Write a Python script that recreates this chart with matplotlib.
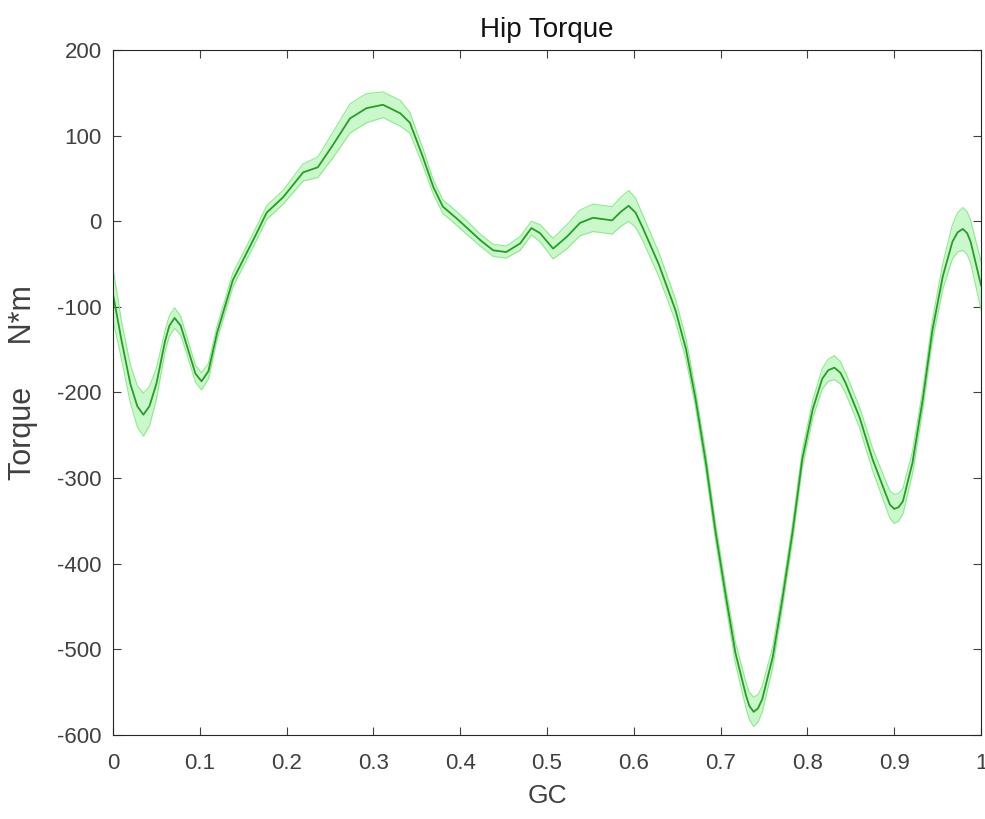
import matplotlib
matplotlib.use("Agg")
import matplotlib.pyplot as plt
import numpy as np

# gait cycle points, mean hip torque and its spread
gc = [0.000, 0.010, 0.020, 0.028, 0.035, 0.042, 0.050, 0.060, 0.065, 0.071,
      0.078, 0.085, 0.095, 0.102, 0.110, 0.120, 0.138, 0.150, 0.165, 0.177,
      0.196, 0.219, 0.236, 0.254, 0.273, 0.292, 0.311, 0.331, 0.342, 0.357,
      0.369, 0.380, 0.395, 0.407, 0.423, 0.438, 0.453, 0.469, 0.482, 0.492,
      0.507, 0.523, 0.538, 0.553, 0.575, 0.585, 0.594, 0.602, 0.610, 0.629,
      0.648, 0.660, 0.671, 0.683, 0.694, 0.706, 0.717, 0.729, 0.733, 0.738,
      0.743, 0.748, 0.760, 0.771, 0.783, 0.794, 0.806, 0.817, 0.824, 0.831,
      0.838, 0.844, 0.860, 0.875, 0.890, 0.895, 0.900, 0.905, 0.910, 0.921,
      0.933, 0.944, 0.956, 0.967, 0.973, 0.979, 0.984, 0.988, 1.000]
torque = [-85, -140, -190, -216, -226, -216, -190, -140, -122, -113,
          -122, -145, -178, -187, -175, -130, -69, -45, -15, 10,
          28, 57, 63, 90, 120, 132, 136, 126, 115, 75,
          40, 17, 4, -7, -22, -34, -36, -26, -8, -14,
          -32, -18, -2, 4, 1, 11, 18, 10, -7, -51,
          -104, -149, -207, -282, -362, -438, -504, -553, -566, -573,
          -569, -558, -509, -442, -362, -278, -220, -184, -174, -171,
          -177, -189, -229, -278, -318, -331, -336, -334, -327, -282,
          -207, -127, -64, -24, -13, -9, -14, -24, -75]
spread = [30, 22, 22, 24, 25, 23, 18, 12, 12, 12,
          11, 10, 10, 10, 9, 8, 8, 8, 8, 8,
          8, 10, 12, 15, 17, 17, 15, 15, 12, 10,
          8, 8, 8, 8, 7, 7, 7, 8, 8, 10,
          12, 14, 15, 16, 16, 17, 18, 17, 15, 14,
          13, 12, 10, 10, 10, 10, 12, 15, 16, 17,
          16, 15, 12, 10, 10, 10, 10, 12, 13, 14,
          13, 12, 12, 13, 15, 16, 17, 16, 15, 13,
          12, 12, 15, 20, 23, 25, 25, 25, 28]

plt.rcParams['font.family'] = ['Liberation Sans', 'DejaVu Sans']
plt.rcParams['axes.unicode_minus'] = False
txt = '#262626'

fig = plt.figure(figsize=(9.85, 8.19), dpi=100)
ax = fig.add_axes([0.1147, 0.1026, 0.8813, 0.8364])

lo = np.array(torque) - np.array(spread)
hi = np.array(torque) + np.array(spread)
ax.fill_between(gc, lo, hi, color=(0.6, 0.95, 0.6), alpha=0.5, lw=0)
ax.plot(gc, lo, color=(0.55, 0.92, 0.55), lw=0.8, solid_joinstyle='round')
ax.plot(gc, hi, color=(0.55, 0.92, 0.55), lw=0.8, solid_joinstyle='round')
ax.plot(gc, torque, color=(0.15, 0.62, 0.15), lw=1.3, solid_joinstyle='round')

ax.set_xlim(0, 1)
ax.set_ylim(-600, 200)
ax.set_xticks(np.arange(0, 1.01, 0.1))
ax.set_xticklabels(['0', '0.1', '0.2', '0.3', '0.4', '0.5', '0.6', '0.7', '0.8', '0.9', '1'])
ax.set_yticks(range(-600, 201, 100))
ax.tick_params(direction='in', top=True, right=True, length=6, width=0.8,
               labelsize=16, colors='#404040', pad=8)
ax.tick_params(axis='x', pad=13)
for s in ax.spines.values():
    s.set_color(txt)
    s.set_linewidth(0.8)

ax.set_title("Hip Torque", fontsize=20, color='#111111', pad=9)
ax.set_xlabel("GC", fontsize=19, color='#404040', labelpad=7)
ax.set_ylabel("Torque     N*m", fontsize=22, color='#404040')
ax.yaxis.set_label_coords(-0.086, 0.515)

plt.savefig("out.png")
plt.close()
